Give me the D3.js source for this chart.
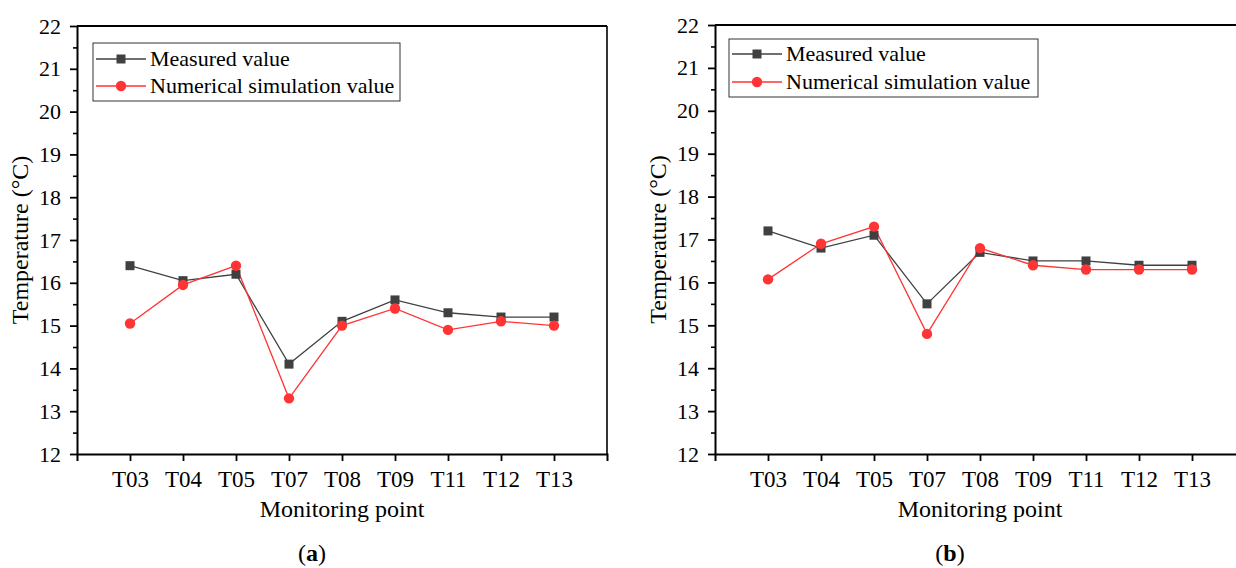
<!DOCTYPE html>
<html>
<head>
<meta charset="utf-8">
<script src="https://cdn.jsdelivr.net/npm/d3@7"></script>
<style>
  html, body { margin: 0; padding: 0; background: #fff; }
  svg { display: block; }
  text { font-family: "Liberation Serif", "Times New Roman", serif; fill: #000; }
</style>
</head>
<body>
<svg id="chart" width="1236" height="568"></svg>
<script>
// Monitoring points along the x axis
const points = ["T03", "T04", "T05", "T07", "T08", "T09", "T11", "T12", "T13"];

// Case (a) temperatures, °C
const measuredA = [16.4, 16.05, 16.2, 14.1, 15.1, 15.6, 15.3, 15.2, 15.2];
const simulatedA = [15.05, 15.95, 16.4, 13.3, 15.0, 15.4, 14.9, 15.1, 15.0];

// Case (b) temperatures, °C
const measuredB = [17.2, 16.8, 17.1, 15.5, 16.7, 16.5, 16.5, 16.4, 16.4];
const simulatedB = [16.07, 16.9, 17.3, 14.8, 16.8, 16.4, 16.3, 16.3, 16.3];

// Y axis ticks
const yTicks = [12, 13, 14, 15, 16, 17, 18, 19, 20, 21, 22];
const yMinorTicks = [12.5, 13.5, 14.5, 15.5, 16.5, 17.5, 18.5, 19.5, 20.5, 21.5];

const seriesNames = ["Measured value", "Numerical simulation value"];
const measuredColor = "#404040";
const simulatedColor = "#ff3535";

const svg = d3.select("#chart");

function drawPanel(opts) {
  const { left, right, top, bottom, measured, simulated, label, legend } = opts;
  const g = svg.append("g");

  const x = d3.scalePoint().domain(points).range([left, right]).padding(1);
  const y = d3.scaleLinear().domain([12, 22]).range([bottom, top]);

  // frame: top and right edges
  g.append("line").attr("x1", left).attr("x2", right).attr("y1", top).attr("y2", top)
    .attr("stroke", "#000").attr("stroke-width", 2);
  g.append("line").attr("x1", right).attr("x2", right).attr("y1", top).attr("y2", bottom)
    .attr("stroke", "#000").attr("stroke-width", 1.6);

  // minor y ticks
  g.append("g").attr("transform", `translate(${left},0)`)
    .call(d3.axisLeft(y).tickValues(yMinorTicks).tickSize(4).tickFormat("").tickSizeOuter(0))
    .call(s => s.select(".domain").remove())
    .call(s => s.selectAll("line").attr("stroke-width", 1.6));

  // major y axis
  const ya = g.append("g").attr("transform", `translate(${left},0)`)
    .call(d3.axisLeft(y).tickValues(yTicks).tickSize(7).tickSizeOuter(0).tickPadding(9).tickFormat(d3.format("d")));
  ya.select(".domain").attr("stroke-width", 2);
  ya.selectAll("line").attr("stroke-width", 1.8);
  ya.selectAll("text").style("font-size", "22px").style("font-family", "Liberation Serif");

  // x axis
  const xa = g.append("g").attr("transform", `translate(0,${bottom})`)
    .call(d3.axisBottom(x).tickSize(7).tickSizeOuter(7).tickPadding(10));
  xa.select(".domain").attr("stroke-width", 2);
  xa.selectAll("line").attr("stroke-width", 1.8);
  xa.selectAll("text").style("font-size", "23px").style("font-family", "Liberation Serif");

  // axis titles
  g.append("text").attr("x", (left + right) / 2).attr("y", bottom + 63)
    .attr("text-anchor", "middle").style("font-size", "24px").text("Monitoring point");
  g.append("text")
    .attr("transform", `translate(${left - 49},${(top + bottom) / 2}) rotate(-90)`)
    .attr("text-anchor", "middle").style("font-size", "24px").text("Temperature (°C)");

  // panel label
  const pl = g.append("text").attr("x", opts.labelX).attr("y", 561)
    .attr("text-anchor", "middle").style("font-size", "24px");
  pl.append("tspan").text("(");
  pl.append("tspan").style("font-weight", "bold").text(label);
  pl.append("tspan").text(")");

  const line = d3.line().x((d, i) => x(points[i])).y(d => y(d));

  // measured series
  g.append("path").datum(measured).attr("d", line)
    .attr("fill", "none").attr("stroke", measuredColor).attr("stroke-width", 1.3);
  // simulated series
  g.append("path").datum(simulated).attr("d", line)
    .attr("fill", "none").attr("stroke", simulatedColor).attr("stroke-width", 1.3);

  const sq = 9;
  g.selectAll(".msq").data(measured).join("rect")
    .attr("x", (d, i) => x(points[i]) - sq / 2).attr("y", d => y(d) - sq / 2)
    .attr("width", sq).attr("height", sq).attr("fill", measuredColor);
  g.selectAll(".sim").data(simulated).join("circle")
    .attr("cx", (d, i) => x(points[i])).attr("cy", d => y(d)).attr("r", 5.2)
    .attr("fill", simulatedColor);

  // legend
  const lg = g.append("g");
  lg.append("rect").attr("x", legend.x).attr("y", legend.y).attr("width", legend.w).attr("height", legend.h)
    .attr("fill", "#fff").attr("stroke", "#333").attr("stroke-width", 1);
  const rows = [
    { name: seriesNames[0], color: measuredColor, shape: "square" },
    { name: seriesNames[1], color: simulatedColor, shape: "circle" }
  ];
  rows.forEach((r, i) => {
    const cy = legend.y + legend.row0 + i * legend.rowGap;
    const x0 = legend.x + 3, x1 = legend.x + 53, xm = (x0 + x1) / 2;
    lg.append("line").attr("x1", x0).attr("x2", x1).attr("y1", cy).attr("y2", cy)
      .attr("stroke", r.color).attr("stroke-width", 1.3);
    if (r.shape === "square") {
      lg.append("rect").attr("x", xm - sq / 2).attr("y", cy - sq / 2).attr("width", sq).attr("height", sq)
        .attr("fill", r.color);
    } else {
      lg.append("circle").attr("cx", xm).attr("cy", cy).attr("r", 5.2).attr("fill", r.color);
    }
    lg.append("text").attr("x", legend.x + 57).attr("y", cy + 7)
      .style("font-size", "22px").text(r.name);
  });
}

drawPanel({
  left: 77, right: 607, top: 26, bottom: 454,
  measured: measuredA, simulated: simulatedA, label: "a", labelX: 312,
  legend: { x: 93, y: 43, w: 307, h: 58, row0: 16, rowGap: 27 }
});

drawPanel({
  left: 715, right: 1245, top: 25, bottom: 454,
  measured: measuredB, simulated: simulatedB, label: "b", labelX: 950,
  legend: { x: 729, y: 39, w: 309, h: 58, row0: 15, rowGap: 28 }
});
</script>
</body>
</html>
